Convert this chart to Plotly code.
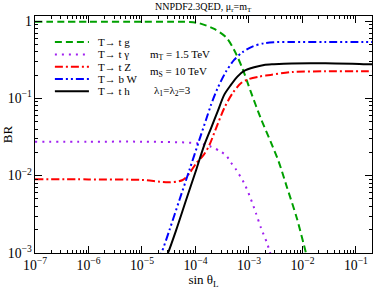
import plotly.graph_objects as go

# sin(theta_L) values and BR values
x_tg = [1e-7, 1e-6, 1e-5, 3.16e-5, 7.76e-5, 1.18e-4, 2.24e-4, 3.71e-4, 5.28e-4, 7.53e-4, 1.08e-3, 1.66e-3, 2.54e-3, 3.62e-3, 5.11e-3, 7.83e-3, 1.15e-2, 1.26e-2]
y_tg = [0.98, 0.98, 0.98, 0.978, 0.972, 0.935, 0.79, 0.62, 0.423, 0.245, 0.122, 0.0553, 0.0275, 0.0150, 0.00714, 0.00284, 1.03e-3, 8.0e-4]

x_tgam = [1e-7, 1e-6, 1e-5, 1.10e-4, 1.95e-4, 2.99e-4, 3.80e-4, 4.57e-4, 5.69e-4, 8.13e-4, 1.07e-3, 1.35e-3, 1.68e-3, 2.19e-3, 2.45e-3, 2.63e-3]
y_tgam = [0.0275, 0.0275, 0.0275, 0.0262, 0.0237, 0.0204, 0.0180, 0.0149, 0.0121, 0.00798, 0.00511, 0.00327, 0.00210, 0.00133, 1.04e-3, 9.0e-4]

x_tZ = [1e-7, 1e-6, 1e-5, 2.14e-5, 3.27e-5, 5.78e-5, 7.71e-5, 1.03e-4, 1.41e-4, 1.82e-4, 2.42e-4, 3.44e-4, 4.91e-4, 7.05e-4, 1.0e-3, 1.54e-3, 2.54e-3, 6.31e-3, 2.69e-2, 1.38e-1, 2.0e-1]
y_tZ = [0.00897, 0.00895, 0.0088, 0.00835, 0.00822, 0.00879, 0.01074, 0.01445, 0.0184, 0.0249, 0.0410, 0.0745, 0.116, 0.157, 0.178, 0.191, 0.201, 0.219, 0.224, 0.224, 0.224]

x_bW = [2.0e-5, 2.30e-5, 3.27e-5, 5.01e-5, 7.71e-5, 1.18e-4, 1.57e-4, 1.95e-4, 2.59e-4, 3.71e-4, 5.28e-4, 7.53e-4, 1.16e-3, 1.91e-3, 2.93e-3, 6.31e-3, 2.69e-2, 1.38e-1, 2.0e-1]
y_bW = [8.1e-4, 9.9e-4, 1.99e-3, 4.85e-3, 0.01186, 0.0290, 0.0525, 0.0822, 0.135, 0.221, 0.314, 0.394, 0.467, 0.516, 0.532, 0.535, 0.535, 0.535, 0.535]

x_th = [2.88e-5, 3.04e-5, 4.37e-5, 6.68e-5, 1.03e-4, 1.46e-4, 1.95e-4, 2.59e-4, 3.44e-4, 4.59e-4, 6.08e-4, 8.11e-4, 1.25e-3, 1.91e-3, 2.93e-3, 6.31e-3, 2.69e-2, 1.38e-1, 2.0e-1]
y_th = [9.3e-4, 9.9e-4, 1.99e-3, 4.85e-3, 0.01186, 0.0249, 0.0410, 0.0673, 0.111, 0.149, 0.191, 0.226, 0.252, 0.270, 0.276, 0.283, 0.284, 0.277, 0.276]

names = ["T\u2192 t g", "T\u2192 t \u03b3", "T\u2192 t Z", "T\u2192 b W", "T\u2192 t h"]
colors = ["#00a000", "#a020f0", "#ff0000", "#0000ff", "#000000"]
dashes = ["7px,4px", "2px,5px", "8px,3px,2px,3px", "8px,3px,2px,3px,2px,3px", "solid"]
xs = [x_tg, x_tgam, x_tZ, x_bW, x_th]
ys = [y_tg, y_tgam, y_tZ, y_bW, y_th]

FONT = "Liberation Serif"

fig = go.Figure()
for n, c, d, x, y in zip(names, colors, dashes, xs, ys):
    fig.add_trace(go.Scatter(x=x, y=y, mode="lines", name=n, showlegend=False,
                             line=dict(color=c, dash=d, width=2, shape="spline", smoothing=0.8)))

fig.update_layout(
    width=374, height=289,
    margin=dict(l=35, r=2, t=16, b=36),
    paper_bgcolor="white", plot_bgcolor="white",
    font=dict(family=FONT, size=11, color="black"),
    title=dict(text="NNPDF2.3QED, \u03bc<sub>r</sub>=m<sub>T</sub>", x=0.543, xanchor="center",
               y=0.99, yanchor="top", font=dict(family=FONT, size=10)),
    showlegend=False,
)

# hand-drawn legend (samples + labels) inside the plot, top-left
leg_y = [0.890, 0.838, 0.786, 0.734, 0.682]
for n, c, d, yy in zip(names, colors, dashes, leg_y):
    fig.add_shape(type="line", xref="paper", yref="paper", x0=0.059, x1=0.160, y0=yy, y1=yy,
                  line=dict(color=c, dash=d, width=2))
    fig.add_annotation(x=0.182, y=yy, xref="paper", yref="paper", xanchor="left", yanchor="middle",
                       showarrow=False, text=n, font=dict(family=FONT, size=11))

axis_common = dict(
    type="log", showgrid=False, zeroline=False, automargin=False,
    showline=True, linecolor="black", linewidth=1, mirror="allticks",
    ticks="inside", ticklen=7, tickwidth=1, tickcolor="black",
    dtick=1, exponentformat="power", showexponent="all",
    minor=dict(ticks="inside", ticklen=3, tickcolor="black", dtick="D1", showgrid=False),
    tickfont=dict(family=FONT, size=11),
)

fig.update_xaxes(**axis_common, range=[-7, -0.7],
                 title=dict(text="sin \u03b8<sub>L</sub>", font=dict(family=FONT, size=13), standoff=0))
fig.update_yaxes(**axis_common, range=[-3, 0.065],
                 title=dict(text="BR", font=dict(family=FONT, size=13), standoff=2))

fig.add_annotation(x=0.335, y=0.835, xref="paper", yref="paper", xanchor="left", yanchor="middle", showarrow=False,
                   text="m<sub>T</sub> = 1.5 TeV", font=dict(family=FONT, size=11))
fig.add_annotation(x=0.335, y=0.765, xref="paper", yref="paper", xanchor="left", yanchor="middle", showarrow=False,
                   text="m<sub>S</sub> = 10 TeV", font=dict(family=FONT, size=11))
fig.add_annotation(x=0.347, y=0.682, xref="paper", yref="paper", xanchor="left", yanchor="middle", showarrow=False,
                   text="\u03bb<sub>1</sub>=\u03bb<sub>2</sub>=3", font=dict(family=FONT, size=11))

fig.write_html("out.html",
               config=dict(displayModeBar=False),
               post_script="document.body.style.margin='0';document.body.style.padding='0';"
                           "document.body.style.overflow='hidden';")
